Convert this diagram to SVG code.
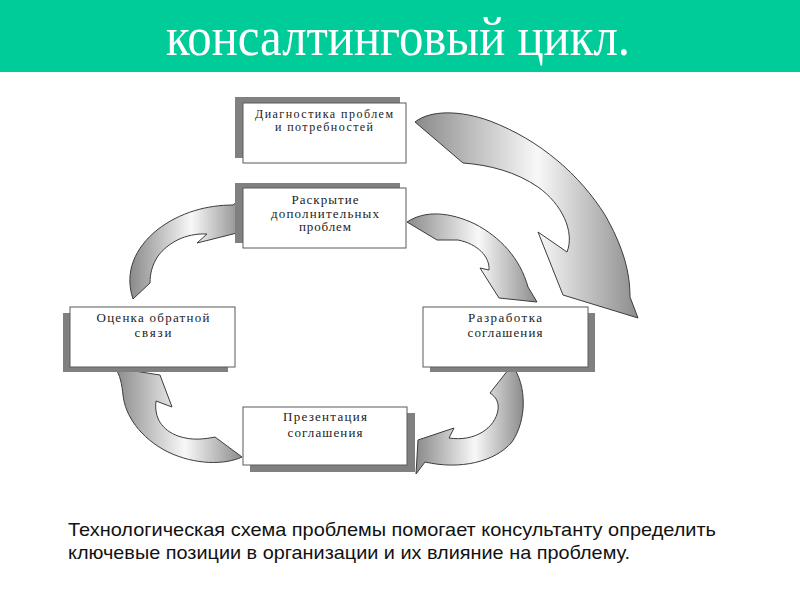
<svg xmlns="http://www.w3.org/2000/svg" width="800" height="600" viewBox="0 0 800 600">
<style>
.shadow{fill:#808080}
.box{fill:#fff;stroke:#5a5a5a;stroke-width:1}
.lbl{font-family:"Liberation Serif","DejaVu Serif",serif;font-size:13px;fill:#222;text-anchor:middle}
.sm{font-size:12px}
.arrow{fill:url(#g);stroke:#3c3c3c;stroke-width:1;stroke-linejoin:round}
.title{font-family:"Liberation Serif","DejaVu Serif",serif;font-size:55px;fill:#fff;text-anchor:start}
.note{font-family:"Liberation Sans","Arial",sans-serif;font-size:19px;fill:#111}
</style>
<defs>
<linearGradient id="g" x1="0" y1="0" x2="1" y2="0">
<stop offset="0" stop-color="#8a8a8a"/>
<stop offset="0.55" stop-color="#f8f8f8"/>
<stop offset="1" stop-color="#8c8c8c"/>
</linearGradient>
</defs>
<rect width="800" height="600" fill="#fff"/>
<rect x="0" y="0" width="800" height="72" fill="#00cc99"/>
<text class="title" x="166" y="55" textLength="464" lengthAdjust="spacingAndGlyphs">консалтинговый цикл.</text>

<g id="connectors">
<path class="arrow" d="M415,122 C430,110 460,110 490,121 C540,140 580,175 605,215 C622,245 630,270 630,297 L638,318 L563,295 L538,232 L567,252 C575,232 562,204 538,187 C516,172 490,165 463,163 Z"/>
<path class="arrow" d="M407,222 C425,210 450,212 475,224 C500,237 520,258 528,287 L537,302 L499,298 L480,268 L489,270 C490,257 478,244 458,240 L437,240 Z"/>
<path class="arrow" d="M133,299 C124,272 135,248 157,230 C180,212 208,205 233,205 L242,198 L237,233 L197,243 L207,234 C185,233 168,243 158,256 C152,265 150,274 150,283 Z"/>
<path class="arrow" d="M115,368 L160,375 L172,407 L156,401 C154,418 162,430 178,436 C192,441 205,439 215,437 L242,457 C225,465 195,465 168,452 C140,438 125,415 123,395 C122,385 120,374 115,368 Z"/>
<path class="arrow" d="M512,365 C527,385 527,420 512,442 C495,462 460,470 425,462 L422,466 L416,474 L418,440 L454,428 L449,438 C475,442 495,428 498,410 C499,402 496,397 490,393 Z"/>
</g>

<g id="n1">
<rect class="shadow" x="235" y="97" width="165" height="61"/>
<rect class="box" x="243" y="103" width="163" height="60"/>
<text class="lbl sm" x="324" y="118" textLength="138">Диагностика проблем</text>
<text class="lbl sm" x="324" y="131" textLength="98">и потребностей</text>
</g>
<g id="n2">
<rect class="shadow" x="235" y="183" width="165" height="60"/>
<rect class="box" x="243" y="188" width="163" height="60"/>
<text class="lbl" x="325" y="203.5" textLength="67">Раскрытие</text>
<text class="lbl" x="325" y="217.5" textLength="108">дополнительных</text>
<text class="lbl" x="325" y="231" textLength="52">проблем</text>
</g>
<g id="n3">
<rect class="shadow" x="63" y="313" width="165" height="59"/>
<rect class="box" x="70" y="307" width="165" height="60"/>
<text class="lbl" x="153" y="322" textLength="113">Оценка обратной</text>
<text class="lbl" x="153" y="337" textLength="37">связи</text>
</g>
<g id="n4">
<rect class="shadow" x="430" y="313" width="165" height="59"/>
<rect class="box" x="423" y="307" width="165" height="60"/>
<text class="lbl" x="505" y="322" textLength="74">Разработка</text>
<text class="lbl" x="505" y="337" textLength="75">соглашения</text>
</g>
<g id="n5">
<rect class="shadow" x="250" y="413" width="165" height="59"/>
<rect class="box" x="243" y="407" width="164" height="58"/>
<text class="lbl" x="325" y="420.5" textLength="84">Презентация</text>
<text class="lbl" x="325" y="437" textLength="75">соглашения</text>
</g>

<text class="note" x="68" y="536" textLength="648" lengthAdjust="spacingAndGlyphs">Технологическая схема проблемы помогает консультанту определить</text>
<text class="note" x="68" y="559" textLength="562" lengthAdjust="spacingAndGlyphs">ключевые позиции в организации и их влияние на проблему.</text>
</svg>
